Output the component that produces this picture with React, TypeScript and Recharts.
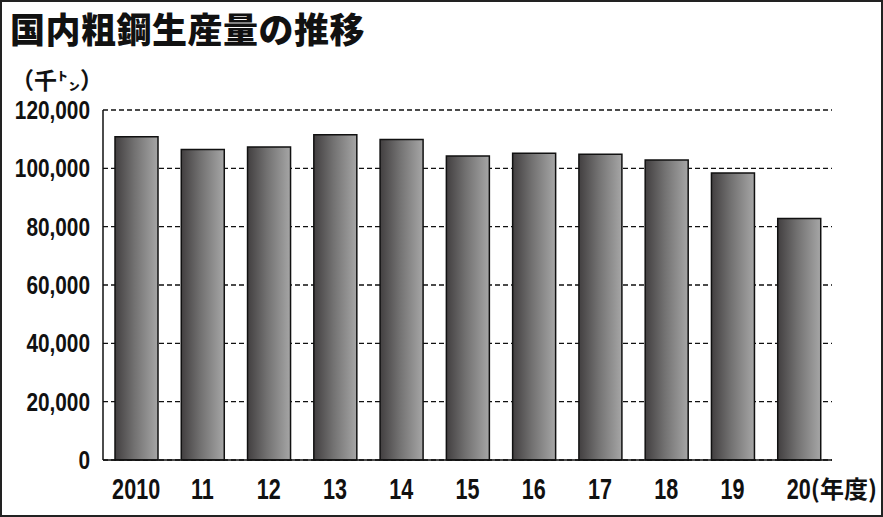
import React from "react";
import { BarChart, Bar, XAxis, YAxis, CartesianGrid } from "recharts";

const years = ["2010", "11", "12", "13", "14", "15", "16", "17", "18", "19", "20"];
const production = [110793, 106462, 107305, 111524, 109844, 104229, 105166, 104834, 102886, 98429, 82785];
const yTicks = [0, 20000, 40000, 60000, 80000, 100000, 120000];

const data = years.map((y, i) => ({ year: y, value: production[i] }));

const NUM_FONT = "'Liberation Sans', Arial, sans-serif";
const JP_FONT = "'Noto Sans CJK JP', 'Noto Sans', sans-serif";

const XTick = (props: any) => {
  const { x, y, payload, index } = props;
  const isLast = index === years.length - 1;
  return (
    <g transform={`translate(${x},${y})`}>
      <g transform="scale(0.72,1)">
        <text x={0} y={31} textAnchor="middle" fontFamily={NUM_FONT} fontWeight="bold" fontSize={30} fill="#111">
          {payload.value}
        </text>
      </g>
      {isLast && (
        <text x={12} y={30} textAnchor="start" fontFamily={JP_FONT} fontWeight="bold" fontSize={24} fill="#111">
          (年度)
        </text>
      )}
    </g>
  );
};

const YTick = (props: any) => {
  const { x, y, payload } = props;
  return (
    <g transform={`translate(${x - 5},${y + 9})`}>
      <g transform="scale(0.8,1)">
        <text x={0} y={0} textAnchor="end" fontFamily={NUM_FONT} fontWeight="bold" fontSize={26} fill="#111">
          {payload.value.toLocaleString("en-US")}
        </text>
      </g>
    </g>
  );
};

export default function App() {
  return (
    <div
      style={{
        position: "absolute",
        left: 0,
        top: 0,
        width: 883,
        height: 517,
        boxSizing: "border-box",
        border: "2px solid #222",
        background: "#fff",
        overflow: "hidden",
      }}
    >
      <div
        style={{
          position: "absolute",
          left: 8,
          top: 1,
          fontFamily: JP_FONT,
          fontWeight: 900,
          fontSize: 35,
          lineHeight: "50px",
          color: "#111",
          letterSpacing: 0.5,
        }}
      >
        国内粗鋼生産量の推移
      </div>
      <div
        style={{
          position: "absolute",
          left: 9,
          top: 60,
          fontFamily: JP_FONT,
          fontWeight: 700,
          fontSize: 23,
          lineHeight: "34px",
          color: "#111",
        }}
      >
        （千㌧）
      </div>
      <div style={{ position: "absolute", left: -2, top: -2 }}>
        <BarChart
          width={883}
          height={517}
          data={data}
          margin={{ top: 110, right: 51, bottom: 0, left: 0 }}
          barSize={43}
        >
          <defs>
            <linearGradient id="barGrad" x1="0" y1="0" x2="1" y2="0">
              <stop offset="0%" stopColor="#423f40" />
              <stop offset="45%" stopColor="#727171" />
              <stop offset="100%" stopColor="#a6a6a6" />
            </linearGradient>
          </defs>
          <CartesianGrid vertical={false} stroke="#111" strokeDasharray="5 3" strokeWidth={1.3} />
          <XAxis
            dataKey="year"
            height={57}
            axisLine={{ stroke: "#111", strokeWidth: 1.5 }}
            tickLine={false}
            tick={<XTick />}
            interval={0}
          />
          <YAxis
            width={103}
            domain={[0, 120000]}
            ticks={yTicks}
            axisLine={{ stroke: "#111", strokeWidth: 1.5 }}
            tickLine={false}
            tick={<YTick />}
            interval={0}
          />
          <Bar dataKey="value" fill="url(#barGrad)" stroke="#111" strokeWidth={1.5} isAnimationActive={false} />
        </BarChart>
      </div>
    </div>
  );
}
